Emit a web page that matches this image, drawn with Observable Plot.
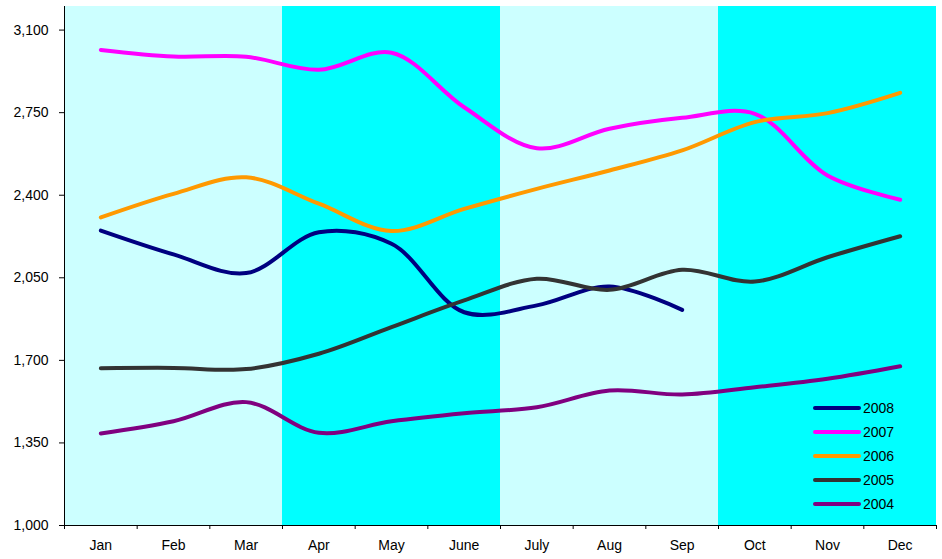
<!DOCTYPE html>
<html>
<head>
<meta charset="utf-8">
<script src="https://cdn.jsdelivr.net/npm/d3@7"></script>
<script src="https://cdn.jsdelivr.net/npm/@observablehq/plot@0.6"></script>
<style>
  html, body { margin: 0; padding: 0; background: #fff; }
  #wrap { position: relative; width: 942px; height: 559px; font-family: "Liberation Sans", Arial, sans-serif; }
  #legend { position: absolute; left: 813px; top: 396px; }
  .item { display: flex; align-items: center; height: 24px; font-size: 14px; color: #000; }
  .swatch { width: 48px; height: 4px; border-radius: 2px; margin-right: 2px; }
</style>
</head>
<body>
<div id="wrap"><div id="legend"></div></div>
<script>
const months = ["Jan", "Feb", "Mar", "Apr", "May", "June", "July", "Aug", "Sep", "Oct", "Nov", "Dec"];
const years = ["2008", "2007", "2006", "2005", "2004"];
const s2008 = [2250, 2149, 2070, 2243, 2194, 1904, 1933, 2013, 1914];
const s2007 = [3016, 2988, 2987, 2932, 3004, 2773, 2599, 2682, 2728, 2745, 2484, 2381];
const s2006 = [2306, 2406, 2476, 2364, 2248, 2342, 2427, 2505, 2590, 2710, 2748, 2834];
const s2005 = [1667, 1668, 1663, 1728, 1841, 1954, 2046, 1999, 2084, 2034, 2137, 2226];
const s2004 = [1390, 1442, 1523, 1393, 1442, 1476, 1501, 1572, 1555, 1586, 1622, 1675];
const yTicks = [1000, 1350, 1700, 2050, 2400, 2750, 3100];
const yMin = 1000, yMax = 3200;

const colors = ["#000080", "#FF00FF", "#FF9900", "#333333", "#800080"];
const seriesValues = [s2008, s2007, s2006, s2005, s2004];

const rows = [];
years.forEach((yr, k) => seriesValues[k].forEach((v, i) => rows.push({year: yr, month: i, value: v})));

const quarters = d3.range(4).map(q => ({x1: q * 3 - 0.5, x2: q * 3 + 2.5, dark: q % 2 === 1}));

const chart = Plot.plot({
  width: 942,
  height: 559,
  marginLeft: 64,
  marginRight: 6,
  marginTop: 6,
  marginBottom: 34,
  style: {fontFamily: "'Liberation Sans', Arial, sans-serif", fontSize: "14px", color: "#000", background: "#fff"},
  x: {domain: [-0.5, 11.5]},
  y: {domain: [yMin, yMax]},
  color: {domain: years, range: colors},
  marks: [
    Plot.rect(quarters.filter(d => !d.dark), {x1: "x1", x2: "x2", y1: yMin, y2: yMax, fill: "#CCFFFF"}),
    Plot.rect(quarters.filter(d => d.dark), {x1: "x1", x2: "x2", y1: yMin, y2: yMax, fill: "#00FFFF"}),
    Plot.line(rows, {x: "month", y: "value", z: "year", stroke: "year", strokeWidth: 4, curve: "catmull-rom", strokeLinecap: "round"}),
    Plot.axisY({ticks: yTicks, tickFormat: d3.format(","), tickSize: 5, tickPadding: 11, fontSize: 14, label: null}),
    Plot.axisX({ticks: d3.range(12), tickFormat: i => months[i], tickSize: 0, tickPadding: 15, fontSize: 14, label: null}),
    Plot.axisX({ticks: d3.range(13).map(i => i - 0.5), tickFormat: () => "", tickSize: 4, label: null}),
    Plot.ruleY([yMin], {stroke: "#000", strokeWidth: 1}),
    Plot.ruleX([-0.5], {stroke: "#000", strokeWidth: 1})
  ]
});
document.getElementById("wrap").prepend(chart);

const legend = document.getElementById("legend");
years.forEach((yr, k) => {
  const item = document.createElement("div");
  item.className = "item";
  const sw = document.createElement("div");
  sw.className = "swatch";
  sw.style.background = colors[k];
  const t = document.createElement("span");
  t.textContent = yr;
  item.append(sw, t);
  legend.append(item);
});
</script>
</body>
</html>
